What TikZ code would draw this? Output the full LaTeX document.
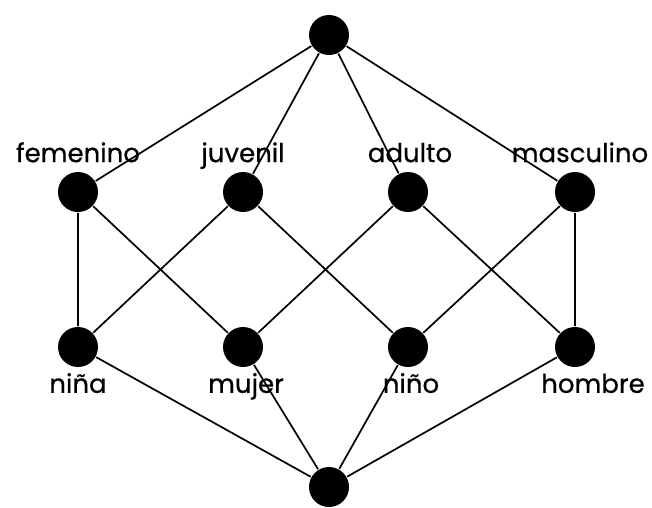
\documentclass[tikz,border=0pt]{standalone}
\usepackage{fontspec}
\newfontfamily\labelfont[FakeBold=0.6]{Poppins}
\usetikzlibrary{positioning}

\begin{document}
\begin{tikzpicture}[x=1pt, y=-1pt, line width=1.7pt,
  dot/.style = {circle, fill=black, draw=none, minimum size=40pt, inner sep=0pt},
  lbl/.style = {font=\labelfont\fontsize{26}{28}\selectfont, inner sep=0pt}]
  \useasboundingbox (0,0) rectangle (652,507);
  % top and bottom
  \node (top) [dot] at (329,35) {};
  \node (bot) [dot] at (329,487) {};
  % upper row
  \node (fem) [dot] at (78,192) {};
  \node (juv) [dot] at (243,192) {};
  \node (adu) [dot] at (408,192) {};
  \node (mas) [dot] at (575,192) {};
  % lower row
  \node (nina)  [dot] at (78,347) {};
  \node (mujer) [dot] at (243,347) {};
  \node (nino)  [dot] at (408,347) {};
  \node (hom)   [dot] at (575,347) {};

  \node (femlbl) [lbl, above = 9pt of fem, anchor=base] {femenino};
  \node (juvlbl) [lbl, above = 9pt of juv, anchor=base] {juvenil};
  \node (adulbl) [lbl, above = 9pt of adu, anchor=base, xshift=2pt] {adulto};
  \node (maslbl) [lbl, above = 9pt of mas, anchor=base, xshift=5pt] {masculino};
  \node (ninalbl)  [lbl, below = 25pt of nina, anchor=base]  {niña};
  \node (mujerlbl) [lbl, below = 25pt of mujer, anchor=base, xshift=3pt] {mujer};
  \node (ninolbl)  [lbl, below = 25pt of nino, anchor=base, xshift=3pt]  {niño};
  \node (homlbl)   [lbl, below = 25pt of hom, anchor=base, xshift=18pt]  {hombre};

  \draw (top) -- (fem)  (top) -- (juv)  (top) -- (adu)  (top) -- (mas)
    (fem) -- (nina)  (fem) -- (mujer)
    (juv) -- (nina)  (juv) -- (nino)
    (adu) -- (mujer) (adu) -- (hom)
    (mas) -- (nino)  (mas) -- (hom)
    (bot) -- (nina)  (bot) -- (mujer)  (bot) -- (nino)  (bot) -- (hom);
\end{tikzpicture}
\end{document}
